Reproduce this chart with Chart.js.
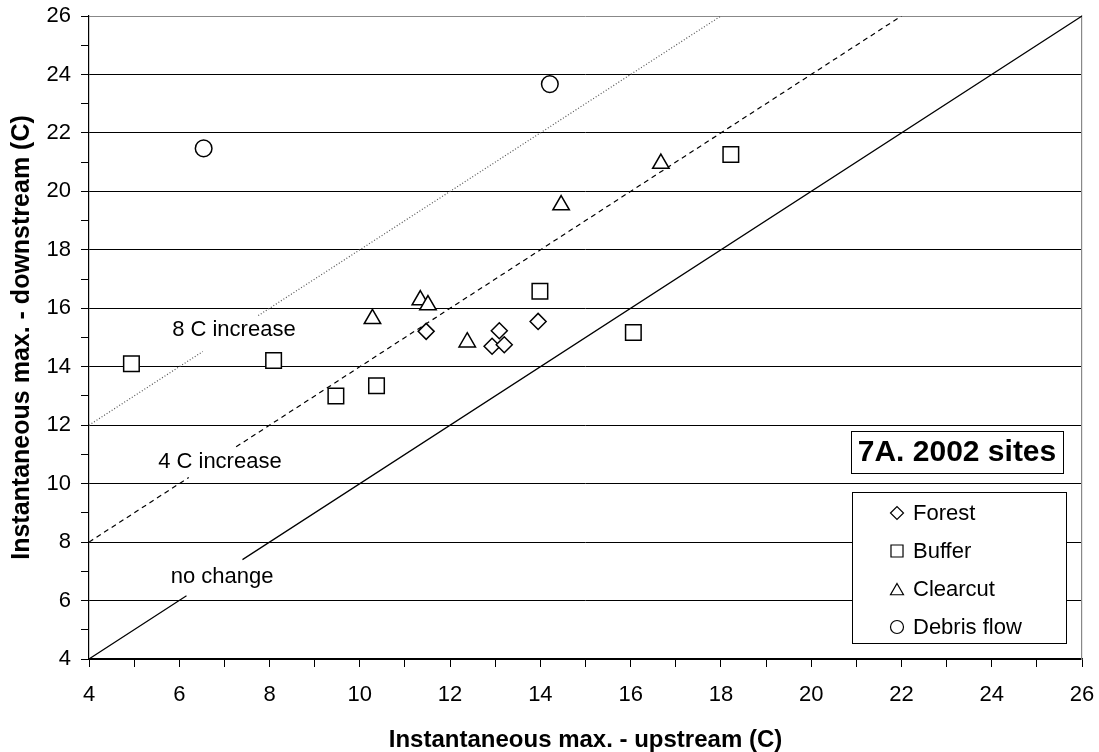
<!DOCTYPE html>
<html lang="en">
<head>
  <meta charset="UTF-8">
  <title>7A. 2002 sites</title>
  <script src="https://cdn.jsdelivr.net/npm/chart.js"></script>
  <style>
    body { margin: 0; background: #fff; }
    canvas { display: block; }
  </style>
</head>
<body>
  <canvas id="myChart" width="1099" height="752"></canvas>

  <script>
    // Site readings (upstream max, downstream max), in C
    const forestX   = [11.47, 13.09, 12.93, 13.20, 13.95];
    const forestY   = [15.21, 15.23, 14.70, 14.75, 15.55];
    const bufferX   = [4.94, 8.09, 9.47, 10.37, 13.99, 16.06, 18.22];
    const bufferY   = [14.10, 14.21, 13.00, 13.35, 16.58, 15.17, 21.26];
    const clearcutX = [10.28, 11.34, 11.51, 12.38, 14.46, 16.67];
    const clearcutY = [15.64, 16.28, 16.11, 14.84, 19.53, 20.95];
    const debrisX   = [6.54, 14.21];
    const debrisY   = [21.47, 23.67];

    // reference lines, with a gap where the label sits (null = break)
    const noChangeX = [4, 6.16, null, 7.40, 26];
    const noChangeY = [4, 6.16, null, 7.40, 26];
    const plus4X    = [4, 6.21, null, 7.26, 22];
    const plus4Y    = [8, 10.21, null, 11.26, 26];
    const plus8X    = [4, 6.52, null, 7.75, 18];
    const plus8Y    = [12, 14.52, null, 15.75, 26];

    const lineLabels = ['8 C increase', '4 C increase', 'no change'];
    const lineLabelX = [7.21, 6.90, 6.95];
    const lineLabelY = [15.26, 10.75, 6.82];

    const axisMin = 4, axisMax = 26;
    const seriesNames = ['Forest', 'Buffer', 'Clearcut', 'Debris flow'];
    const chartTitle = '7A. 2002 sites';

    const FONT = '"Liberation Sans", Arial, sans-serif';

    function pts(xs, ys) {
      return xs.map((x, i) => ({ x: x === null ? (xs[i - 1] + xs[i + 1]) / 2 : x, y: ys[i] }));
    }

    function markerSet(label, xs, ys, style, radius) {
      return {
        type: 'scatter', label: label, data: pts(xs, ys),
        pointStyle: style, pointRadius: radius, pointHoverRadius: radius,
        backgroundColor: '#fff', borderColor: '#000', borderWidth: 1.5, order: 1
      };
    }

    function refLine(label, xs, ys, dash, color) {
      return {
        type: 'line', label: label, data: pts(xs, ys),
        borderColor: color, borderWidth: 1.2, borderDash: dash,
        pointRadius: 0, spanGaps: false, fill: false, order: 2
      };
    }

    // keep the plot frame where the reference has it
    function fixBox(size, key) {
      return s => {
        s[key] = size;
        s.paddingTop = 0; s.paddingBottom = 0; s.paddingLeft = 0; s.paddingRight = 0;
      };
    }

    // labels on the reference lines + the title box + the legend box
    const extras = {
      id: 'extras',
      afterDatasetsDraw(chart) {
        const ctx = chart.ctx, xs = chart.scales.x, ys = chart.scales.y;
        ctx.save();
        ctx.fillStyle = '#000';
        ctx.font = '22px ' + FONT;
        ctx.textAlign = 'center';
        ctx.textBaseline = 'middle';
        lineLabels.forEach((t, i) => {
          ctx.fillText(t, xs.getPixelForValue(lineLabelX[i]), ys.getPixelForValue(lineLabelY[i]));
        });

        const a = chart.chartArea;
        // title box
        const tx = a.right - 231, ty = a.top + 415;
        ctx.fillStyle = '#fff';
        ctx.fillRect(tx, ty, 212, 42);
        ctx.strokeStyle = '#000';
        ctx.lineWidth = 1;
        ctx.strokeRect(tx + 0.5, ty + 0.5, 212, 42);
        ctx.fillStyle = '#000';
        ctx.font = 'bold 30px ' + FONT;
        ctx.fillText(chartTitle, tx + 106, ty + 22);

        // legend box
        const lx = a.right - 230, ly = a.top + 476;
        ctx.fillStyle = '#fff';
        ctx.fillRect(lx, ly, 214, 151);
        ctx.strokeRect(lx + 0.5, ly + 0.5, 214, 151);
        ctx.font = '22px ' + FONT;
        ctx.textAlign = 'left';
        const styles = ['rectRot', 'rect', 'triangle', 'circle'];
        const radii = [6.5, 8.5, 7.5, 6.5];
        seriesNames.forEach((name, i) => {
          const y = ly + 21 + i * 38;
          ctx.fillStyle = '#fff';
          ctx.strokeStyle = '#000';
          ctx.lineWidth = 1.2;
          Chart.helpers.drawPoint(ctx, { pointStyle: styles[i], radius: radii[i], borderWidth: 1.2 }, lx + 45, y + (i === 2 ? 2 : 0));
          ctx.fillStyle = '#000';
          ctx.fillText(name, lx + 61, y + 1);
        });
        ctx.restore();
      }
    };

    const ctx = document.getElementById('myChart').getContext('2d');
    const myChart = new Chart(ctx, {
      data: {
        datasets: [
          markerSet('Forest', forestX, forestY, 'rectRot', 8),
          markerSet('Buffer', bufferX, bufferY, 'rect', 11),
          markerSet('Clearcut', clearcutX, clearcutY, 'triangle', 9.5),
          markerSet('Debris flow', debrisX, debrisY, 'circle', 8.3),
          refLine('no change', noChangeX, noChangeY, [], '#000'),
          refLine('4 C increase', plus4X, plus4Y, [5, 4], '#000'),
          refLine('8 C increase', plus8X, plus8Y, [1, 2], '#555')
        ]
      },
      options: {
        responsive: false,
        animation: false,
        layout: { autoPadding: false, padding: { top: 16, right: 17, left: 0, bottom: 0 } },
        plugins: { legend: { display: false }, tooltip: { enabled: false } },
        scales: {
          x: {
            type: 'linear', min: axisMin, max: axisMax,
            afterFit: fixBox(93, 'height'),
            border: { color: '#000', width: 1.2 },
            grid: { color: 'rgba(0,0,0,0)', tickColor: '#000', tickLength: 8, drawOnChartArea: false },
            ticks: {
              stepSize: 1, autoSkip: false, padding: 15, color: '#000',
              font: { family: FONT, size: 22 },
              callback: v => (v % 2 === 0 ? v : '')
            },
            title: {
              display: true, text: 'Instantaneous max. - upstream (C)', color: '#000',
              font: { family: FONT, size: 24, weight: 'bold' }, padding: { top: 0, bottom: -3 }
            }
          },
          y: {
            type: 'linear', min: axisMin, max: axisMax,
            afterFit: fixBox(89, 'width'),
            border: { color: '#000', width: 1.2 },
            grid: {
              color: c => (c.tick.value % 2 !== 0 ? 'rgba(0,0,0,0)' : (c.tick.value === axisMax ? '#888' : '#000')),
              tickColor: '#000', tickLength: 8
            },
            ticks: {
              stepSize: 1, autoSkip: false, padding: 10, color: '#000',
              font: { family: FONT, size: 22 },
              callback: v => (v % 2 === 0 ? v : '')
            },
            title: {
              display: true, text: 'Instantaneous max. - downstream (C)', color: '#000',
              font: { family: FONT, size: 25, weight: 'bold' }, padding: { top: 7, bottom: 0 }
            }
          },
          yRight: {
            type: 'linear', position: 'right', min: axisMin, max: axisMax,
            afterFit: fixBox(0, 'width'),
            border: { color: '#888', width: 1.2 },
            grid: { display: false },
            ticks: { display: false }
          }
        }
      },
      plugins: [extras]
    });
  </script>
</body>
</html>
